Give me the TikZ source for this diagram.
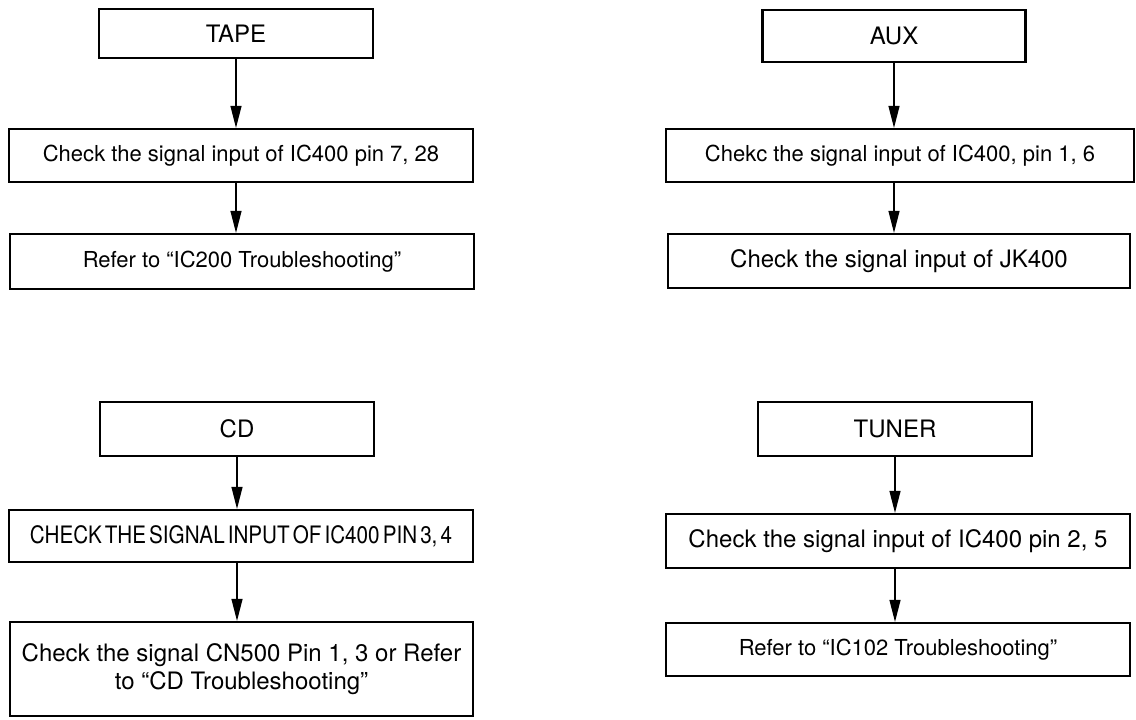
\documentclass[tikz,border=0pt]{standalone}
\usepackage{fontspec}
\setmainfont{TeX Gyre Heros}
\usepackage{graphicx}
\usetikzlibrary{arrows.meta}
\begin{document}
\begin{tikzpicture}[x=1pt,y=-1pt,
  box/.style={draw, line width=2.2pt, inner sep=0pt, align=center},
  fa/.style={font=\fontsize{22}{28}\selectfont},
  fb/.style={font=\fontsize{24}{28}\selectfont},
  flow/.style={line width=1.2pt, -{Triangle[length=22pt,width=11pt]}}]
\useasboundingbox[fill=white] (0,0) rectangle (1136,720);
% top-left
\node[box, fb, minimum width=274pt, minimum height=49pt] (tape) at (236,33.5) {TAPE};
\node[box, fa, minimum width=464pt, minimum height=53pt] (b1) at (241,155.5) {Check the signal input of IC400 pin 7, 28};
\node[box, fa, minimum width=464pt, minimum height=55pt] (b2) at (242,261.5) {Refer to “IC200 Troubleshooting”};
% top-right
\node[box, fb, minimum width=263pt, minimum height=52pt] (aux) at (894,36) {AUX};
\node[box, fa, minimum width=468pt, minimum height=53pt] (a1) at (900,155.5) {Chekc the signal input of IC400, pin 1, 6};
\node[box, fb, minimum width=462pt, minimum height=54pt] (a2) at (899,261) {Check the signal input of JK400};
% bottom-left
\node[box, fb, minimum width=274pt, minimum height=54pt] (cd) at (237,429) {CD};
\node[box, minimum width=464pt, minimum height=52pt] (c1) at (241,536)
  {\scalebox{0.86}[1]{\fontsize{24}{28}\selectfont\spaceskip=0.15em CHECK THE SIGNAL INPUT OF IC400 PIN 3, 4}};
\node[box, fb, minimum width=463pt, minimum height=94pt] (c2) at (241.5,669)
  {Check the signal CN500 Pin 1, 3 or Refer\\to “CD Troubleshooting”};
% bottom-right
\node[box, fb, minimum width=274pt, minimum height=54pt] (tuner) at (895,429) {TUNER};
\node[box, fb, minimum width=464pt, minimum height=54pt] (t1) at (898,541) {Check the signal input of IC400 pin 2, 5};
\node[box, fa, minimum width=464pt, minimum height=53pt] (t2) at (898,649.5) {Refer to “IC102 Troubleshooting”};
% connectors
\draw[flow] (tape.south) -- (tape.south |- b1.north);
\draw[flow] (tape.south |- b1.south) -- (tape.south |- b2.north);
\draw[flow] (aux.south) -- (aux.south |- a1.north);
\draw[flow] (aux.south |- a1.south) -- (aux.south |- a2.north);
\draw[flow] (cd.south) -- (cd.south |- c1.north);
\draw[flow] (cd.south |- c1.south) -- (cd.south |- c2.north);
\draw[flow] (tuner.south) -- (tuner.south |- t1.north);
\draw[flow] (tuner.south |- t1.south) -- (tuner.south |- t2.north);
\end{tikzpicture}
\end{document}
